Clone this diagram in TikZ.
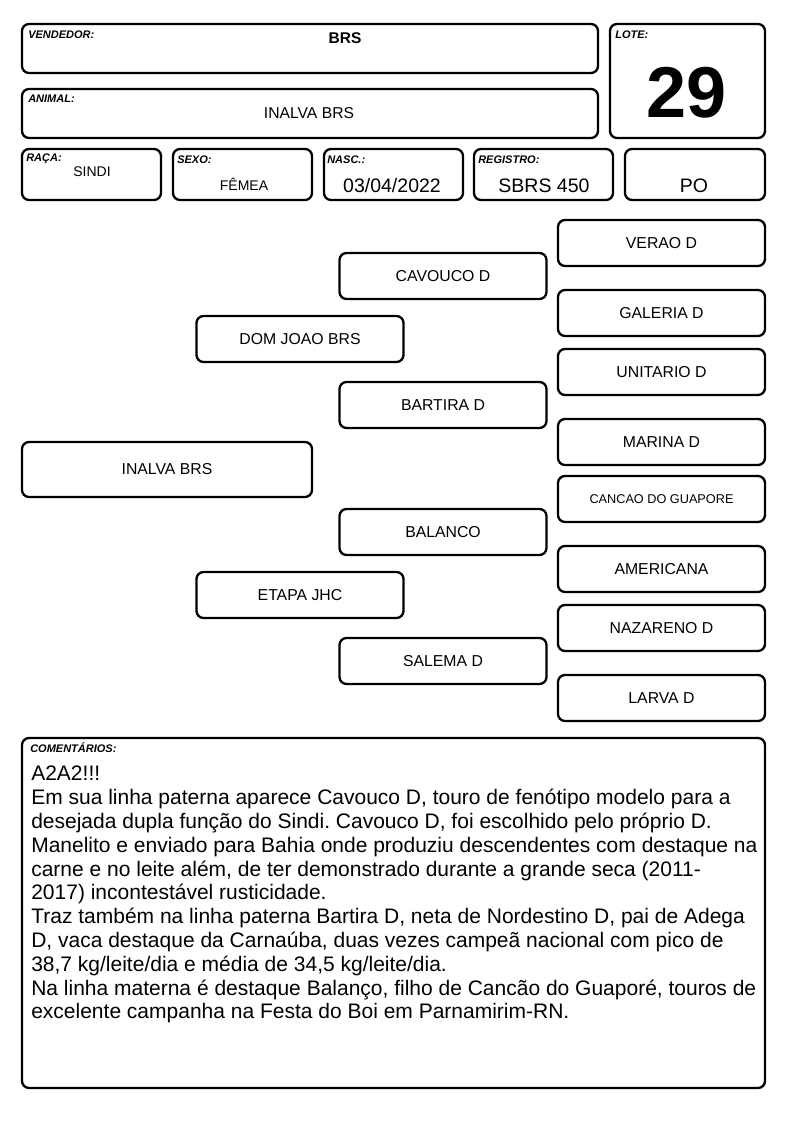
\documentclass[tikz,border=0pt]{standalone}
\usepackage{fontspec}
\setmainfont{Liberation Sans}
\usetikzlibrary{positioning}
\frenchspacing

\begin{document}
\begin{tikzpicture}[x=1pt,y=-1pt,semithick]
        \tikzstyle{box}=[draw,line width=2.3pt,rounded corners=7pt,inner sep=0pt]
        \tikzstyle{anc}=[box,minimum width=207pt,minimum height=46pt,font=\fontsize{15.8}{18}\selectfont]
        \tikzstyle{small}=[box,minimum width=139pt,minimum height=51pt]
        \tikzstyle{lbl}=[anchor=west,inner sep=0pt,font=\fontsize{11}{12}\selectfont\bfseries\itshape]
        \tikzstyle{val}=[inner sep=0pt,font=\fontsize{15.7}{18}\selectfont]
        \tikzstyle{big}=[inner sep=0pt,font=\fontsize{19.5}{22}\selectfont]

        \useasboundingbox (0,0) rectangle (794,1123);

        % header
        \node[box,minimum width=576pt,minimum height=49pt] (vend) at (310,48.5) {};
        \node[box,minimum width=576pt,minimum height=49pt] (anim) at (310,113.5) {};
        \node[box,minimum width=155pt,minimum height=114pt] (lote) at (687.5,81) {};
        \node[small] (raca) at (91.5,174.5) {};
        \node[small] (sexo) at (242.5,174.5) {};
        \node[small] (nasc) at (393.5,174.5) {};
        \node[small] (reg)  at (543.5,174.5) {};
        \node[small,minimum width=140pt] (po) at (695,174.5) {};

        \node[lbl] (vendL) at (28,35)  {VENDEDOR:};
        \node[lbl] (animL) at (28,99)  {ANIMAL:};
        \node[lbl] (loteL) at (615,35) {LOTE:};
        \node[lbl] (racaL) at (26,159) {RAÇA:};
        \node[lbl] (sexoL) at (177,160) {SEXO:};
        \node[lbl] (nascL) at (327,160) {NASC.:};
        \node[lbl] (regL)  at (478,160) {REGISTRO:};

        \node[val,font=\fontsize{15.5}{18}\selectfont\bfseries] (vendT) at (345,38) {BRS};
        \node[val] (animT) at (309,113) {INALVA BRS};
        \node[inner sep=0pt,font=\fontsize{72}{80}\selectfont\bfseries] (loteT) at (687,93) {29};
        \node[val,font=\fontsize{14}{16}\selectfont] (racaT) at (92,172) {SINDI};
        \node[val,font=\fontsize{14}{16}\selectfont] (sexoT) at (244,184) {FÊMEA};
        \node[big] (nascT) at (392,186) {03/04/2022};
        \node[big] (regT)  at (544,186) {SBRS 450};
        \node[big] (poT)   at (694,186) {PO};

        % pedigree
        \node[box,minimum width=290pt,minimum height=55pt,font=\fontsize{15.8}{18}\selectfont] (inalva) at (167,469.5) {INALVA BRS};
        \node[anc] (domjoao)  at (300,339) {DOM JOAO BRS};
        \node[anc] (etapa)    at (300,595) {ETAPA JHC};
        \node[anc] (cavouco)  at (443,276) {CAVOUCO D};
        \node[anc] (bartira)  at (443,405) {BARTIRA D};
        \node[anc] (balanco)  at (443,532) {BALANCO};
        \node[anc] (salema)   at (443,661) {SALEMA D};
        \node[anc] (verao)    at (661.5,243) {VERAO D};
        \node[anc] (galeria)  at (661.5,313) {GALERIA D};
        \node[anc] (unitario) at (661.5,372) {UNITARIO D};
        \node[anc] (marina)   at (661.5,442) {MARINA D};
        \node[anc,font=\fontsize{12.7}{15}\selectfont] (cancao) at (661.5,499) {CANCAO DO GUAPORE};
        \node[anc] (americana) at (661.5,569) {AMERICANA};
        \node[anc] (nazareno) at (661.5,628) {NAZARENO D};
        \node[anc] (larva)    at (661.5,698) {LARVA D};

        % comments
        \node[box,minimum width=743pt,minimum height=350pt] (com) at (393.5,913) {};
        \node[lbl] (comL) at (30,748) {COMENTÁRIOS:};
        \node[anchor=north west,inner sep=0pt,align=left,font=\fontsize{21}{23.8}\selectfont] (comT) at (31,766) {A2A2!!!\\
Em sua linha paterna aparece Cavouco D, touro de fenótipo modelo para a\\
desejada dupla função do Sindi. Cavouco D, foi escolhido pelo próprio D.\\
Manelito e enviado para Bahia onde produziu descendentes com destaque na\\
carne e no leite além, de ter demonstrado durante a grande seca (2011-\\
2017) incontestável rusticidade.\\
Traz também na linha paterna Bartira D, neta de Nordestino D, pai de Adega\\
D, vaca destaque da Carnaúba, duas vezes campeã nacional com pico de\\
38,7 kg/leite/dia e média de 34,5 kg/leite/dia.\\
Na linha materna é destaque Balanço, filho de Cancão do Guaporé, touros de\\
excelente campanha na Festa do Boi em Parnamirim-RN.};
\end{tikzpicture}
\end{document}
